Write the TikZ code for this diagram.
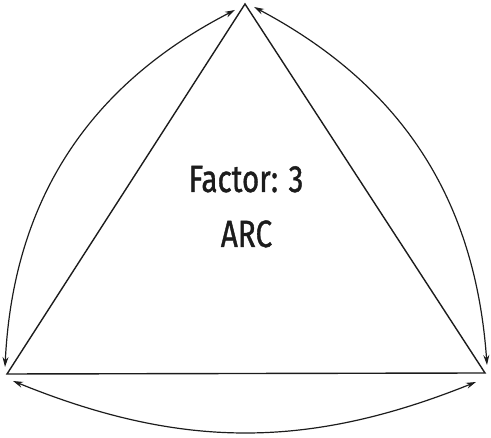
\documentclass[tikz,border=0pt]{standalone}
\usepackage{fontspec}
\setmainfont{Fira Sans}
\newfontfamily\lblfont{Fira Sans}[FakeBold=1.2]
\usetikzlibrary{arrows.meta}
\definecolor{ink}{RGB}{28,28,28}
\tikzset{
  edge/.style={draw=ink, line width=1.4pt, line join=miter},
  arcarrow/.style={draw=ink, line width=1.2pt, {Stealth[length=10pt,width=6pt]}-{Stealth[length=10pt,width=6pt]}},
  lbl/.style={text=ink, inner sep=0pt, font=\lblfont\fontsize{38}{40}\selectfont}
}
\begin{document}
\begin{tikzpicture}[x=1pt,y=1pt]
\useasboundingbox (0,0) rectangle (491,438);
\coordinate (T) at (245,434);
\coordinate (BL) at (7,64);
\coordinate (BR) at (485,65);
\coordinate (lt) at (235,428);
\coordinate (lb) at (5,71);
\coordinate (rt) at (254,431);
\coordinate (rb) at (487,73);
\coordinate (bl) at (13,57);
\coordinate (br) at (476,56);
\draw[edge] (T) -- (BL) -- (BR) -- cycle;
\draw[arcarrow] (lt) to[bend right=30] (lb);
\draw[arcarrow] (rt) to[bend left=29] (rb);
\draw[arcarrow] (bl) to[bend right=22] (br);
\node[lbl, anchor=base] (f) at (246,246) {\scalebox{0.78}[1]{Factor: 3}};
\node[lbl, anchor=base] (a) at (246.5,191) {\scalebox{0.78}[1]{ARC}};
\end{tikzpicture}
\end{document}
